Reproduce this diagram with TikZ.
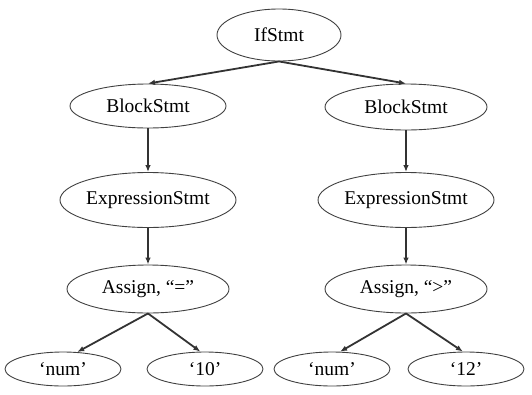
\documentclass[tikz,border=0pt]{standalone}
\usepackage{fontspec}
\setmainfont{Liberation Serif}
\usetikzlibrary{shapes.geometric, arrows.meta}

\begin{document}
\begin{tikzpicture}[x=1pt, y=-1pt,
  astnode/.style args={#1/#2}{ellipse, draw=black!75, line width=0.9pt,
    inner sep=0pt, minimum width=#1pt, minimum height=#2pt,
    font=\fontsize{19.5}{23}\selectfont},
  edge/.style={-{Latex[length=7pt,width=5.5pt]}, line width=1.8pt, draw=black!80}]

\useasboundingbox (0,0) rectangle (532,394);

% root
\node[astnode=124/52] (if) at (279,35) {IfStmt};

% left branch
\node[astnode=156/44] (bl) at (148,106) {BlockStmt};
\node[astnode=176/55] (el) at (148,200) {ExpressionStmt};
\node[astnode=162/48] (al) at (148,289) {Assign, “=”};
\node[astnode=116/34] (nl) at (63,369) {‘num’};
\node[astnode=116/34] (vl) at (205,369) {‘10’};

% right branch
\node[astnode=162/46] (br) at (406,107) {BlockStmt};
\node[astnode=176/55] (er) at (406,200) {ExpressionStmt};
\node[astnode=162/48] (ar) at (406,289) {Assign, “>”};
\node[astnode=116/34] (nr) at (332,369) {‘num’};
\node[astnode=116/34] (vr) at (466,369) {‘12’};

% edges
\draw[edge] (if.south) -- (bl.north);
\draw[edge] (if.south) -- (br.north);
\draw[edge] (bl) -- (el);
\draw[edge] (el) -- (al);
\draw[edge] (br) -- (er);
\draw[edge] (er) -- (ar);
\draw[edge] (al.south) -- (nl.50);
\draw[edge] (al.south) -- (vl.105);
\draw[edge] (ar.south) -- (nr.65);
\draw[edge] (ar.south) -- (vr.100);
\end{tikzpicture}
\end{document}
